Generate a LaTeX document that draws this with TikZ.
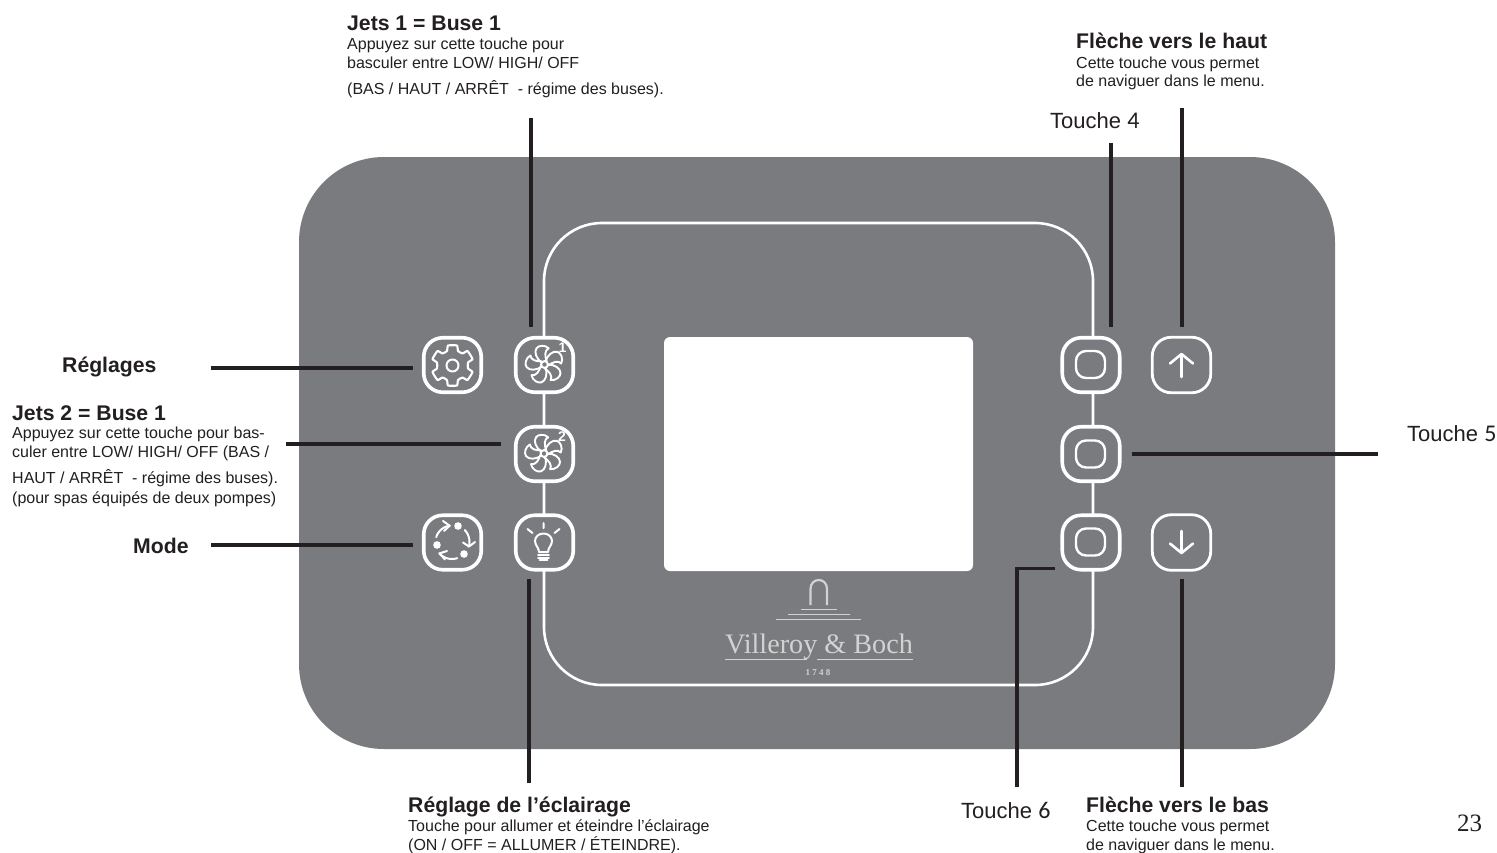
\documentclass[tikz,border=0pt]{standalone}
\usepackage{fontspec}
\setmainfont{Liberation Sans}
\newfontfamily\logofont{Liberation Serif}
\newfontfamily\digitfont{Carlito}
\definecolor{panel}{HTML}{7A7B7E}
\definecolor{lead}{HTML}{231F20}
\definecolor{logo}{HTML}{D2D2D2}
\tikzset{
  x=1pt,y=-1pt,
  btn/.style={draw=white,fill=panel,line width=3.6pt,rounded corners=19pt,minimum width=57.5pt,minimum height=54.5pt,inner sep=0pt},
  btnthin/.style={btn,line width=2.8pt,minimum width=58.5pt,minimum height=55.5pt},
  inner/.style={draw=white,fill=panel,line width=2.4pt,rounded corners=10pt,minimum width=29pt,minimum height=27pt,inner sep=0pt},
  icon/.style={draw=white,line width=2pt,line join=round,line cap=round},
  leader/.style={draw=lead,line width=3.4pt},
  title/.style={font=\fontsize{21.2}{23}\selectfont\bfseries,anchor=base west,inner sep=0pt,text=lead},
  body/.style={font=\fontsize{16}{18}\selectfont,anchor=base west,inner sep=0pt,text=lead},
  lab/.style={font=\fontsize{22}{24}\selectfont,anchor=base west,inner sep=0pt,text=lead},
}
\newcommand{\fanicon}[3]{%
  \begin{scope}[shift={(#1,#2)}]
    \foreach \a in {12,84,156,228,300}{
      \draw[icon,line width=1.9pt,rotate=\a] (-2.5,-2.5) .. controls (-6.5,-7.5) and (-8,-14) .. (-4.5,-17.5) .. controls (-2,-20) and (4.5,-19.5) .. (7.5,-15) .. controls (3,-14) and (2,-8.5) .. (2.8,-3);
    }
    \draw[icon,fill=panel] (0,0) circle (3.4);
    \node[text=white,inner sep=0pt,font=\fontsize{14}{14}\selectfont\bfseries] (#3) at (18,-17) {#3};
  \end{scope}}
\begin{document}
\begin{tikzpicture}
\useasboundingbox (0,0) rectangle (1497,852);
\fill[white] (0,0) rectangle (1497,852);
\fill[panel,rounded corners=85pt] (299,157) rectangle (1335,749);
\fill[white,rounded corners=6pt] (664,337) rectangle (973,571);
\draw[white,line width=2.6pt,rounded corners=58pt] (544,223) rectangle (1093,685);
% buttons
\node[btn] (gear) at (452.5,365) {};
\node[btn] (fanA) at (544.5,365) {};
\node[btn] (fanB) at (544.5,454) {};
\node[btn] (modeb) at (452.5,542.5) {};
\node[btn] (light) at (544.5,542.5) {};
\node[btn] (tA) at (1091,365) {};
\node[btn] (tB) at (1091,454) {};
\node[btn] (tC) at (1091,542.5) {};
\node[btnthin] (up) at (1181.5,365) {};
\node[btnthin] (down) at (1181.5,542.5) {};
\node[inner] (tAi) at (1090.5,364.5) {};
\node[inner] (tBi) at (1090.5,454) {};
\node[inner] (tCi) at (1090.5,542) {};
% gear
\begin{scope}[shift={(452.5,365.5)}]
  \draw[icon,line width=2.1pt]
   plot[smooth cycle,tension=0.25] coordinates {
   (-4.5,-20)(4.5,-20)(5.5,-14.5)(10,-12)(15,-14.5)(20,-6.5)(15.5,-3)(15.5,3)(20,6.5)(15,14.5)(10,12)(5.5,14.5)(4.5,20)(-4.5,20)(-5.5,14.5)(-10,12)(-15,14.5)(-20,6.5)(-15.5,3)(-15.5,-3)(-20,-6.5)(-15,-14.5)(-10,-12)(-5.5,-14.5)};
  \draw[icon] (0,0) circle (6);
\end{scope}
% fans
\fanicon{544.5}{364.5}{1}
\fanicon{544}{453.5}{2}
% mode
\begin{scope}[shift={(452,542)}]
  \fill[white] (6,-16) circle (3.8) (-15,3) circle (3.8) (12,12) circle (3.8);
  \draw[icon] plot[domain=197:262,samples=12,smooth] ({16.5*cos(\x)},{16.5*sin(\x)});
  \draw[icon] (-9,-21) -- (-2.3,-16.3) -- (-8,-11);
  \draw[icon] plot[domain=-43:15,samples=12,smooth] ({17.5*cos(\x)},{17.5*sin(\x)});
  \draw[icon] (23,0) -- (17,4.5) -- (11,0.5);
  \draw[icon] plot[domain=72:138,samples=12,smooth] ({17*cos(\x)},{17*sin(\x)});
  \draw[icon] (-7,17.5) -- (-12.6,11.4) -- (-5,9);
\end{scope}
% bulb
\begin{scope}[shift={(543.5,543)}]
  \draw[icon] (-4.5,9) .. controls (-4.5,5) and (-8.5,2) .. (-8.5,-2) .. controls (-8.5,-6) and (-5,-9.5) .. (0,-9.5) .. controls (5,-9.5) and (8.5,-6) .. (8.5,-2) .. controls (8.5,2) and (4.5,5) .. (4.5,9) -- cycle;
  \draw[icon,line width=1.8pt] (-5.5,12) -- (5.5,12) (-5.5,14.7) -- (5.5,14.7) (-4,17.3) -- (4,17.3);
  \draw[icon] (0,-20) -- (0,-15) (-16,-14) -- (-11,-10) (16,-14) -- (11,-10);
\end{scope}
% arrows
\begin{scope}[shift={(1181.5,365)}]
  \draw[icon,line width=2.6pt] (0,12) -- (0,-10) (-11.5,-1.5) -- (0,-11) -- (11.5,-1.5);
\end{scope}
\begin{scope}[shift={(1181.5,542)}]
  \draw[icon,line width=2.6pt] (0,-11) -- (0,11) (-11.5,1.5) -- (0,11) -- (11.5,1.5);
\end{scope}
% logo
\draw[logo,line width=2.2pt] (810.5,605) -- (810.5,589) .. controls (810.5,577) and (827,577) .. (827,589) -- (827,605);
\draw[logo,line width=1.5pt] (801,609.5) -- (837,609.5) (788,614.5) -- (850,614.5) (776,619.5) -- (861,619.5);
\node[text=logo,inner sep=0pt,anchor=base,font=\logofont\fontsize{28.2}{30}\selectfont] (logotext) at (819,653) {Villeroy \& Boch};
\draw[logo,line width=1pt] (725,659) -- (807,659) (817,659) -- (913,659);
\node[text=logo,inner sep=0pt,anchor=base,font=\logofont\bfseries\fontsize{9}{10}\selectfont] (logoyear) at (818,675) {1 7 4 8};
% leaders
\coordinate (lj1) at (531,118);
\coordinate (lset) at (211,368);
\coordinate (lj2) at (286,444);
\coordinate (lmode) at (211,545);
\coordinate (llight) at (529,783);
\coordinate (lt4) at (1111,143);
\coordinate (lup) at (1182,108);
\coordinate (lt5) at (1378,454);
\coordinate (lt6) at (1017,787);
\coordinate (ldown) at (1182,787);
\draw[leader] (lj1) -- ([yshift=9pt]fanA.north -| lj1);
\draw[leader] (lset) -- ([xshift=-9pt]gear.west |- lset);
\draw[leader] (lj2) -- ([xshift=-13pt]fanB.west |- lj2);
\draw[leader] (lmode) -- ([xshift=-9pt]modeb.west |- lmode);
\draw[leader] (llight) -- ([yshift=-7pt]light.south -| llight);
\draw[leader] (lt4) -- ([yshift=9pt]tA.north -| lt4);
\draw[leader] (lup) -- ([yshift=9pt]up.north -| lup);
\draw[leader] (lt5) -- ([xshift=10pt]tB.east |- lt5);
\draw[leader] (lt6) |- ([yshift=3pt,xshift=-5pt]tC.south west);
\draw[leader] (ldown) -- ([yshift=-7pt]down.south -| ldown);
% texts
\node[title] (t1) at (347,30) {Jets 1 = Buse 1};
\node[body] (t1a) at (347,49) {Appuyez sur cette touche pour};
\node[body] (t1b) at (347,68) {basculer entre LOW/ HIGH/ OFF};
\node[body] (t1c) at (347,94) {(BAS / HAUT / ARRÊT\ \ - régime des buses).};
\node[title] (t2) at (1076,48) {Flèche vers le haut};
\node[body] (t2a) at (1076,68) {Cette touche vous permet};
\node[body] (t2b) at (1076,86) {de naviguer dans le menu.};
\node[lab] (t3) at (1050,128) {Touche {\digitfont\fontsize{24}{24}\selectfont 4}};
\node[title] (t4) at (62,372) {Réglages};
\node[title] (t5) at (12,420) {Jets 2 = Buse 1};
\node[body] (t5a) at (12,438) {Appuyez sur cette touche pour bas-};
\node[body] (t5b) at (12,457) {culer entre LOW/ HIGH/ OFF (BAS /};
\node[body] (t5c) at (12,483) {HAUT / ARRÊT\ \ - régime des buses).};
\node[body] (t5d) at (12,503) {(pour spas équipés de deux pompes)};
\node[title] (t6) at (133,553) {Mode};
\node[lab] (t7) at (1407,441) {Touche {\digitfont\fontsize{24}{24}\selectfont 5}};
\node[title] (t8) at (408,812) {Réglage de l’éclairage};
\node[body] (t8a) at (408,831) {Touche pour allumer et éteindre l'éclairage};
\node[body] (t8b) at (408,850) {(ON / OFF = ALLUMER / ÉTEINDRE).};
\node[lab] (t9) at (961,818) {Touche {\digitfont\fontsize{24}{24}\selectfont 6}};
\node[title] (t10) at (1086,812) {Flèche vers le bas};
\node[body] (t10a) at (1086,831) {Cette touche vous permet};
\node[body] (t10b) at (1086,850) {de naviguer dans le menu.};
\node[anchor=base west,inner sep=0pt,text=lead,font=\logofont\fontsize{25}{27}\selectfont] (pg) at (1457,831) {23};
\end{tikzpicture}
\end{document}
